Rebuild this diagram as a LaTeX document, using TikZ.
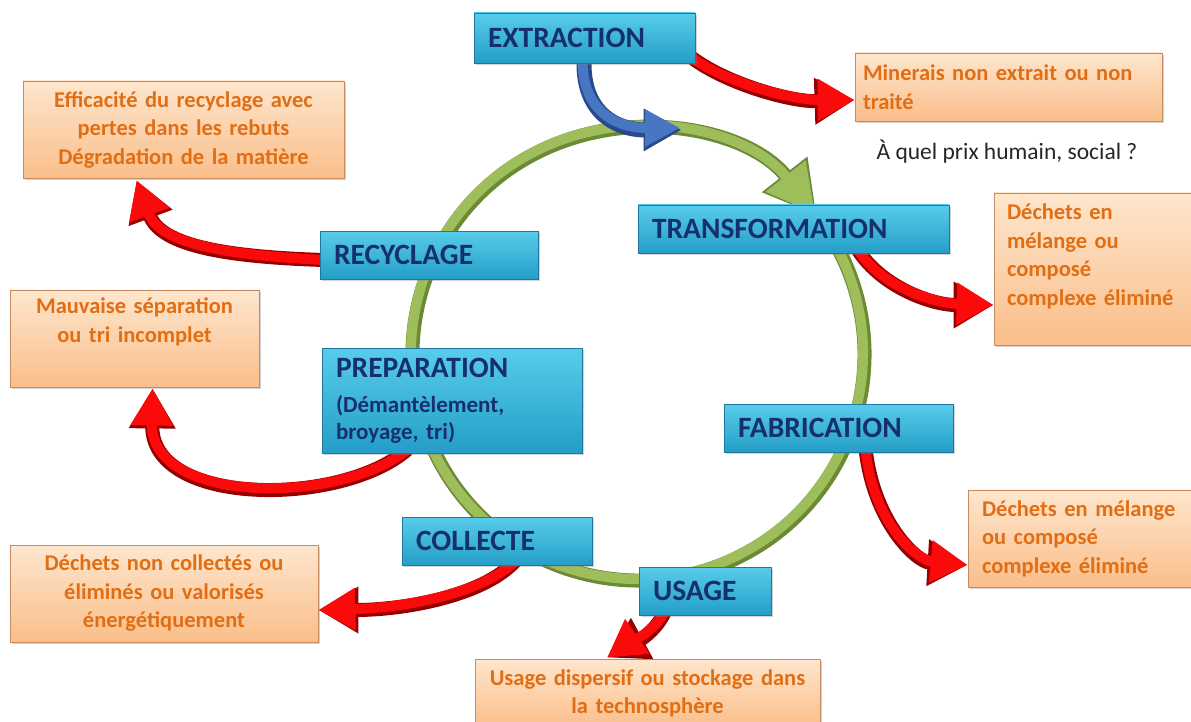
\documentclass[tikz,border=0pt]{standalone}
\usepackage{fontspec}
\setmainfont{Carlito}
\usetikzlibrary{arrows.meta,shadows,calc}
\pgfdeclarelayer{bg}
\pgfsetlayers{bg,main}
\definecolor{bluetop}{RGB}{88,204,234}
\definecolor{bluebot}{RGB}{36,158,200}
\definecolor{bluedraw}{RGB}{30,120,160}
\definecolor{navy}{RGB}{22,48,110}
\definecolor{orangetop}{RGB}{254,230,205}
\definecolor{orangebot}{RGB}{250,190,138}
\definecolor{orangedraw}{RGB}{196,140,96}
\definecolor{orangetext}{RGB}{226,110,20}
\definecolor{ringgreen}{RGB}{158,190,92}
\definecolor{ringdark}{RGB}{108,138,52}
\definecolor{arrred}{RGB}{250,10,10}
\definecolor{arrdark}{RGB}{150,0,0}
\definecolor{arrblue}{RGB}{72,118,194}
\definecolor{arrbluedark}{RGB}{40,74,140}
\begin{document}
\begin{tikzpicture}[x=1pt,y=-1pt,
  bbox/.style={draw=bluedraw, line width=0.8pt, top color=bluetop, bottom color=bluebot,
    inner xsep=14pt, inner ysep=0pt, text=navy, align=left,
    font=\bfseries\fontsize{29.5}{32}\selectfont,
    drop shadow={opacity=0.35, shadow xshift=2pt, shadow yshift=-2pt}},
  obox/.style={draw=orangedraw, line width=0.8pt, top color=orangetop, bottom color=orangebot,
    inner xsep=8pt, inner ysep=0pt, text=orangetext,
    font=\bfseries\fontsize{22.5}{28.5}\selectfont,
    drop shadow={opacity=0.35, shadow xshift=2pt, shadow yshift=-2pt}},
  redunder/.style={line width=14pt, arrdark, -{Triangle[length=40pt,width=44pt]}},
  redtop/.style={line width=10pt, arrred, -{Triangle[length=37pt,width=40pt]}},
  blueunder/.style={line width=15pt, arrbluedark, -{Triangle[length=38pt,width=40pt]}},
  bluetopst/.style={line width=10pt, arrblue, -{Triangle[length=35pt,width=35pt]}},
]
\useasboundingbox (0,0) rectangle (1191,722);

% blue boxes
\node[bbox, text width=193pt, minimum height=50pt] (ext) at (584.5,38) {EXTRACTION};
\node[bbox, text width=283pt, minimum height=48pt] (tra) at (793.5,229) {TRANSFORMATION};
\node[bbox, text width=190pt, minimum height=48pt] (rec) at (429,255) {RECYCLAGE};
\node[bbox, text width=201pt, minimum height=48pt] (fab) at (838.5,428) {FABRICATION};
\node[bbox, text width=162pt, minimum height=48pt] (col) at (497,541) {COLLECTE};
\node[bbox, text width=104pt, minimum height=48pt] (usa) at (705,591) {USAGE};
\node[bbox, text width=232pt, minimum height=105pt, font=\bfseries\fontsize{23}{27}\selectfont]
  (pre) at (452,400.5) {{\fontsize{29.5}{27}\selectfont PREPARATION}\\[8pt](Démantèlement,\\broyage, tri)};

% orange boxes
\node[obox, text width=291pt, minimum height=68pt, align=left] (min) at (1008.5,87)
  {Minerais non extrait ou non\\traité};
\node[obox, text width=305pt, minimum height=97pt, align=center] (eff) at (183.5,129.5)
  {Efficacité du recyclage avec\\pertes dans les rebuts\\Dégradation de la matière};
\node[obox, text width=233pt, minimum height=97pt, align=center] (mau) at (134.5,338.5)
  {Mauvaise séparation\\ou tri incomplet\\\strut};
\node[obox, inner xsep=13pt, text width=190pt, minimum height=152pt, align=left] (dr1) at (1102,269)
  {Déchets en\\mélange ou\\composé\\complexe éliminé\\[-8pt]\strut};
\node[obox, inner xsep=14pt, text width=209pt, minimum height=97pt, align=left] (dr2) at (1086.5,538.5)
  {Déchets en mélange\\ou composé\\complexe éliminé};
\node[obox, text width=292pt, minimum height=97pt, align=center] (dnc) at (164,593.5)
  {Déchets non collectés ou\\éliminés ou valorisés\\énergétiquement};
\node[obox, text width=329pt, minimum height=69pt, align=center] (ud) at (647.5,693.5)
  {Usage dispersif ou stockage dans\\la technosphère};
\node[font=\fontsize{23.5}{26}\selectfont, text=black!85] (q) at (1007,152) {À quel prix humain, social ?};

% arrow end points
\coordinate (rc) at (637,353);
\coordinate (b0) at ($(ext.south)+(-2,-4)$);
\coordinate (bt) at (680,128);
\coordinate (r1a) at ($(ext.south east)+(-4,-6)$);
\coordinate (r1b) at ($(min.west)+(0,13)$);
\coordinate (r7a) at ($(tra.south)+(64,-4)$);
\coordinate (r7b) at ($(dr1.west)+(0,36)$);
\coordinate (r8a) at ($(fab.south)+(27,-4)$);
\coordinate (r8b) at ($(dr2.west)+(0,26.5)$);
\coordinate (r3a) at ($(rec.west)+(4,5)$);
\coordinate (r3b) at ($(eff.south west)+(114,2)$);
\coordinate (r4a) at ($(pre.south west)+(86,-4)$);
\coordinate (r4b) at ($(mau.south west)+(143,1)$);
\coordinate (r5a) at ($(col.south)+(18,-4)$);
\coordinate (r5b) at ($(dnc.east)+(0,16.5)$);
\coordinate (r6a) at ($(usa.south)+(-40,-4)$);
\coordinate (r6b) at ($(ud.north)+(-40.5,-1)$);

\begin{pgfonlayer}{bg}
% ring
\draw[line width=14pt, ringdark, -{Triangle[length=52pt,width=54pt]}]
  ($(rc)+(1.5,1.5)$) ++(-28:226) arc[start angle=-28, end angle=322, radius=226];
\draw[line width=10pt, ringgreen, -{Triangle[length=48pt,width=48pt]}]
  (rc) ++(-28:226) arc[start angle=-28, end angle=322, radius=226];
% red arrows (dark underlay, then bright)
\foreach \s/\t in {redunder/{1.5,2}, redtop/{0,0}} {
  \begin{scope}[shift={(\t)}]
  \draw[\s] (r1a) .. controls (725,82) and (790,100) .. (r1b);
  \draw[\s] (r7a) .. controls (880,285) and (930,303) .. (r7b);
  \draw[\s] (r8a) .. controls (872,520) and (915,560) .. (r8b);
  \draw[\s] (r3a) .. controls (230,255) and (160,245) .. (r3b);
  \draw[\s] (r4a) .. controls (340,505) and (150,505) .. (r4b);
  \draw[\s] (r5a) .. controls (480,595) and (400,608) .. (r5b);
  \draw[\s] (r6a) .. controls (652,635) and (625,645) .. (r6b);
  \end{scope}
}
% blue arrow
\draw[blueunder] ($(b0)+(1.5,2)$) .. controls (583,112) and (615,130) .. ($(bt)+(1.5,2)$);
\draw[bluetopst] (b0) .. controls (582,110) and (615,128) .. (bt);
\end{pgfonlayer}
\end{tikzpicture}
\end{document}
